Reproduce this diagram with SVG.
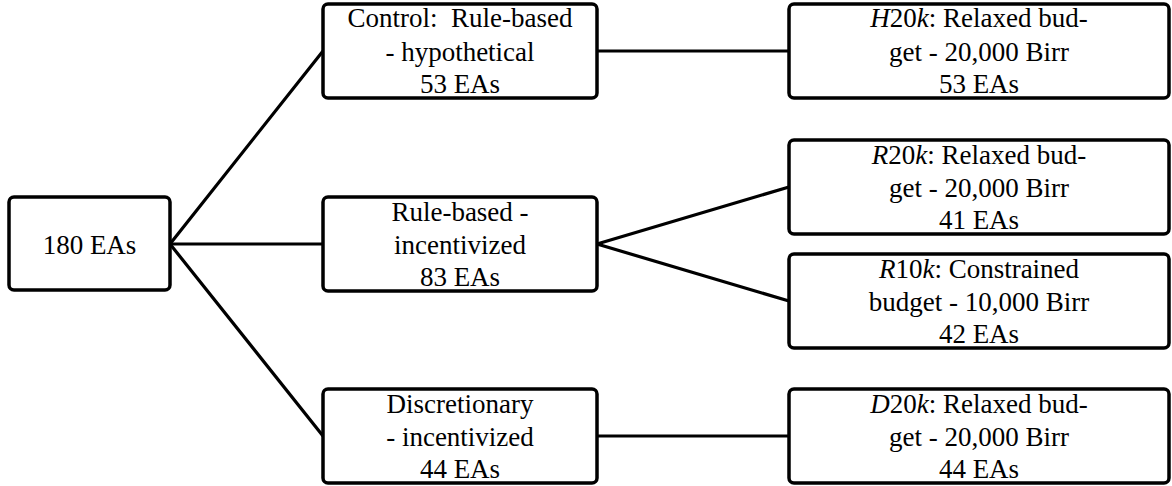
<svg xmlns="http://www.w3.org/2000/svg" width="1172" height="486" viewBox="0 0 1172 486">
<style>
.box{fill:#fff;stroke:#000;stroke-width:3.5}
.t{font-size:27px;fill:#000;text-anchor:middle}
.i{font-style:italic}
.c line{stroke:#000;stroke-width:3.2;stroke-linecap:round}
</style>
<rect width="1172" height="486" fill="#fff"/>
<g class="c" id="connectors">
<line x1="170" y1="244" x2="323" y2="51"/>
<line x1="170" y1="244" x2="323" y2="244"/>
<line x1="170" y1="244" x2="323" y2="436"/>
<line x1="597" y1="51" x2="789" y2="51"/>
<line x1="597" y1="244" x2="789" y2="187"/>
<line x1="597" y1="244" x2="789" y2="301"/>
<line x1="597" y1="436" x2="789" y2="436"/>
</g>
<g font-family="Liberation Serif, DejaVu Serif, serif">
<g id="root">
<rect class="box" x="9" y="197" width="161" height="93" rx="5"/>
<text class="t" x="89.5" y="254">180 EAs</text>
</g>
<g id="control">
<rect class="box" x="323" y="4" width="274" height="94" rx="5"/>
<text class="t" x="460" y="27" xml:space="preserve">Control:  Rule-based</text>
<text class="t" x="460" y="61">- hypothetical</text>
<text class="t" x="460" y="93">53 EAs</text>
</g>
<g id="rule">
<rect class="box" x="323" y="197" width="274" height="94" rx="5"/>
<text class="t" x="460" y="221">Rule-based -</text>
<text class="t" x="460" y="254">incentivized</text>
<text class="t" x="460" y="286">83 EAs</text>
</g>
<g id="disc">
<rect class="box" x="323" y="389" width="274" height="94" rx="5"/>
<text class="t" x="460" y="413">Discretionary</text>
<text class="t" x="460" y="446">- incentivized</text>
<text class="t" x="460" y="478">44 EAs</text>
</g>
<g id="h20k">
<rect class="box" x="789" y="4" width="380" height="94" rx="5"/>
<text class="t" x="979" y="27"><tspan class="i">H</tspan>20<tspan class="i">k</tspan>: Relaxed bud-</text>
<text class="t" x="979" y="61">get - 20,000 Birr</text>
<text class="t" x="979" y="93">53 EAs</text>
</g>
<g id="r20k">
<rect class="box" x="789" y="140" width="380" height="94" rx="5"/>
<text class="t" x="979" y="164"><tspan class="i">R</tspan>20<tspan class="i">k</tspan>: Relaxed bud-</text>
<text class="t" x="979" y="197">get - 20,000 Birr</text>
<text class="t" x="979" y="229">41 EAs</text>
</g>
<g id="r10k">
<rect class="box" x="789" y="254" width="380" height="94" rx="5"/>
<text class="t" x="979" y="278"><tspan class="i">R</tspan>10<tspan class="i">k</tspan>: Constrained</text>
<text class="t" x="979" y="311">budget - 10,000 Birr</text>
<text class="t" x="979" y="343">42 EAs</text>
</g>
<g id="d20k">
<rect class="box" x="789" y="389" width="380" height="94" rx="5"/>
<text class="t" x="979" y="413"><tspan class="i">D</tspan>20<tspan class="i">k</tspan>: Relaxed bud-</text>
<text class="t" x="979" y="446">get - 20,000 Birr</text>
<text class="t" x="979" y="478">44 EAs</text>
</g>
</g>
</svg>
